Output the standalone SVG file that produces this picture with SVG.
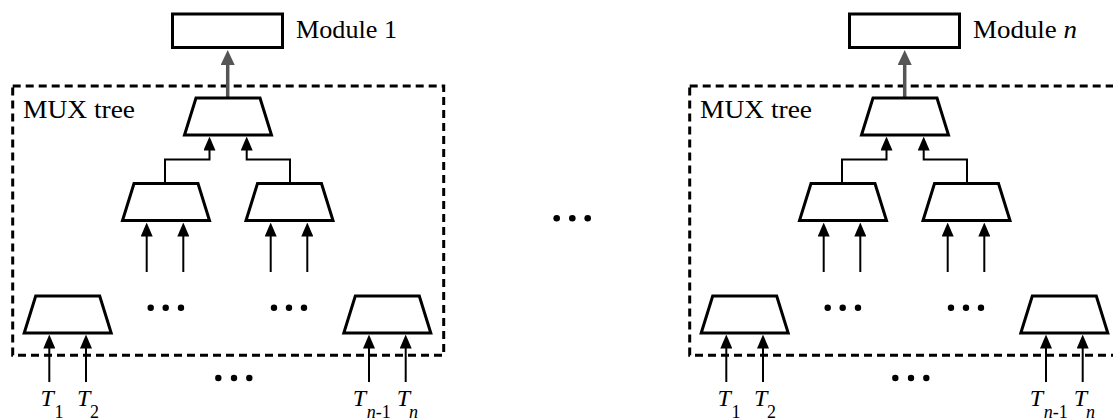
<svg xmlns="http://www.w3.org/2000/svg" xmlns:xlink="http://www.w3.org/1999/xlink" width="1113" height="420" viewBox="0 0 1113 420">
  <style>
    .mux { fill: #fff; stroke: #000; stroke-width: 3; stroke-linejoin: miter; }
    .module { fill: #fff; stroke: #000; stroke-width: 3; }
    .frame { fill: none; stroke: #000; stroke-width: 3; stroke-dasharray: 8 5; }
    .wire { fill: none; stroke: #000; stroke-width: 2; marker-end: url(#head); }
    .out { fill: none; stroke: #555; stroke-width: 3.5; marker-end: url(#headGray); }
    .dot { fill: #000; }
    text { font-family: "Liberation Serif", "Times New Roman", serif; fill: #000; }
    .lbl { font-size: 25px; }
    .title { font-size: 25px; }
    .t { font-size: 24px; font-style: italic; }
    .sub { font-size: 18px; }
    .it { font-style: italic; }
  </style>
  <defs>
    <!-- trapezoid multiplexer, origin at top centre -->
    <path id="muxShape" class="mux" d="M-32,0 H32 L43.5,37 H-43.5 Z"/>
    <marker id="head" markerUnits="userSpaceOnUse" markerWidth="14" markerHeight="12" refX="3" refY="6" orient="auto">
      <path d="M0,0 L14,6 L0,12 Z" fill="#000"/>
    </marker>
    <marker id="headGray" markerUnits="userSpaceOnUse" markerWidth="15" markerHeight="14" refX="3" refY="7" orient="auto">
      <path d="M0,0 L15,7 L0,14 Z" fill="#555"/>
    </marker>
    <!-- one module with its MUX tree -->
    <g id="panel">
      <g id="frame">
        <rect class="frame" x="12.7" y="86" width="431" height="269.3"/>
        <text class="title" x="23" y="118.3" textLength="112" lengthAdjust="spacingAndGlyphs">MUX tree</text>
      </g>
      <g id="connectors">
        <path class="out" d="M227.7,98 V62"/>
        <path class="wire" d="M165,184 V159.5 H209.5 V147.5"/>
        <path class="wire" d="M290,184 V159.5 H246.7 V147.5"/>
        <path class="wire" d="M146.7,272 V233.5"/>
        <path class="wire" d="M183.3,272 V233.5"/>
        <path class="wire" d="M270.7,272 V233.5"/>
        <path class="wire" d="M307.3,272 V233.5"/>
        <path class="wire" d="M49.3,382 V345.5"/>
        <path class="wire" d="M86,382 V345.5"/>
        <path class="wire" d="M369,382 V345.5"/>
        <path class="wire" d="M405.7,382 V345.5"/>
      </g>
      <g id="module">
        <rect class="module" x="172.5" y="14" width="110" height="33.5"/>
      </g>
      <g id="muxRoot"><use xlink:href="#muxShape" transform="translate(228,98)"/></g>
      <g id="muxMidL"><use xlink:href="#muxShape" transform="translate(166,183.5)"/></g>
      <g id="muxMidR"><use xlink:href="#muxShape" transform="translate(289.5,183.5)"/></g>
      <g id="muxLeafL"><use xlink:href="#muxShape" transform="translate(67.7,296)"/></g>
      <g id="muxLeafR"><use xlink:href="#muxShape" transform="translate(387.3,296)"/></g>
      <g id="ellipses">
        <circle class="dot" cx="150.7" cy="307.7" r="3.2"/>
        <circle class="dot" cx="165.7" cy="307.7" r="3.2"/>
        <circle class="dot" cx="181" cy="307.7" r="3.2"/>
        <circle class="dot" cx="274" cy="307.7" r="3.2"/>
        <circle class="dot" cx="289" cy="307.7" r="3.2"/>
        <circle class="dot" cx="304" cy="307.7" r="3.2"/>
        <circle class="dot" cx="218.3" cy="378" r="3.2"/>
        <circle class="dot" cx="234" cy="378" r="3.2"/>
        <circle class="dot" cx="249.3" cy="378" r="3.2"/>
      </g>
      <g id="inputs">
        <text class="t" x="40.5" y="405.5">T</text>
        <text class="sub" x="54.5" y="417.5">1</text>
        <text class="t" x="77" y="405.5">T</text>
        <text class="sub" x="90" y="417.5">2</text>
        <text class="t" x="352.7" y="405.5">T</text>
        <text class="sub" x="366.7" y="417.5"><tspan class="it">n</tspan>-1</text>
        <text class="t" x="396.7" y="405.5">T</text>
        <text class="sub it" x="409" y="417.5">n</text>
      </g>
    </g>
  </defs>

  <rect width="1113" height="420" fill="#fff"/>

  <!-- module 1 -->
  <g id="panel1">
    <use xlink:href="#panel"/>
    <g id="label1">
      <text class="lbl" x="296" y="38.3" textLength="101" lengthAdjust="spacingAndGlyphs">Module 1</text>
    </g>
  </g>

  <!-- ellipsis between modules -->
  <g id="between">
    <circle class="dot" cx="556.7" cy="218.3" r="3.3"/>
    <circle class="dot" cx="572.3" cy="218.3" r="3.3"/>
    <circle class="dot" cx="587.7" cy="218.3" r="3.3"/>
  </g>

  <!-- module n -->
  <g id="panelN">
    <use xlink:href="#panel" transform="translate(677,0)"/>
    <g id="labelN">
      <text class="lbl" x="973" y="38.3" textLength="104" lengthAdjust="spacingAndGlyphs">Module <tspan class="it">n</tspan></text>
    </g>
  </g>
</svg>
